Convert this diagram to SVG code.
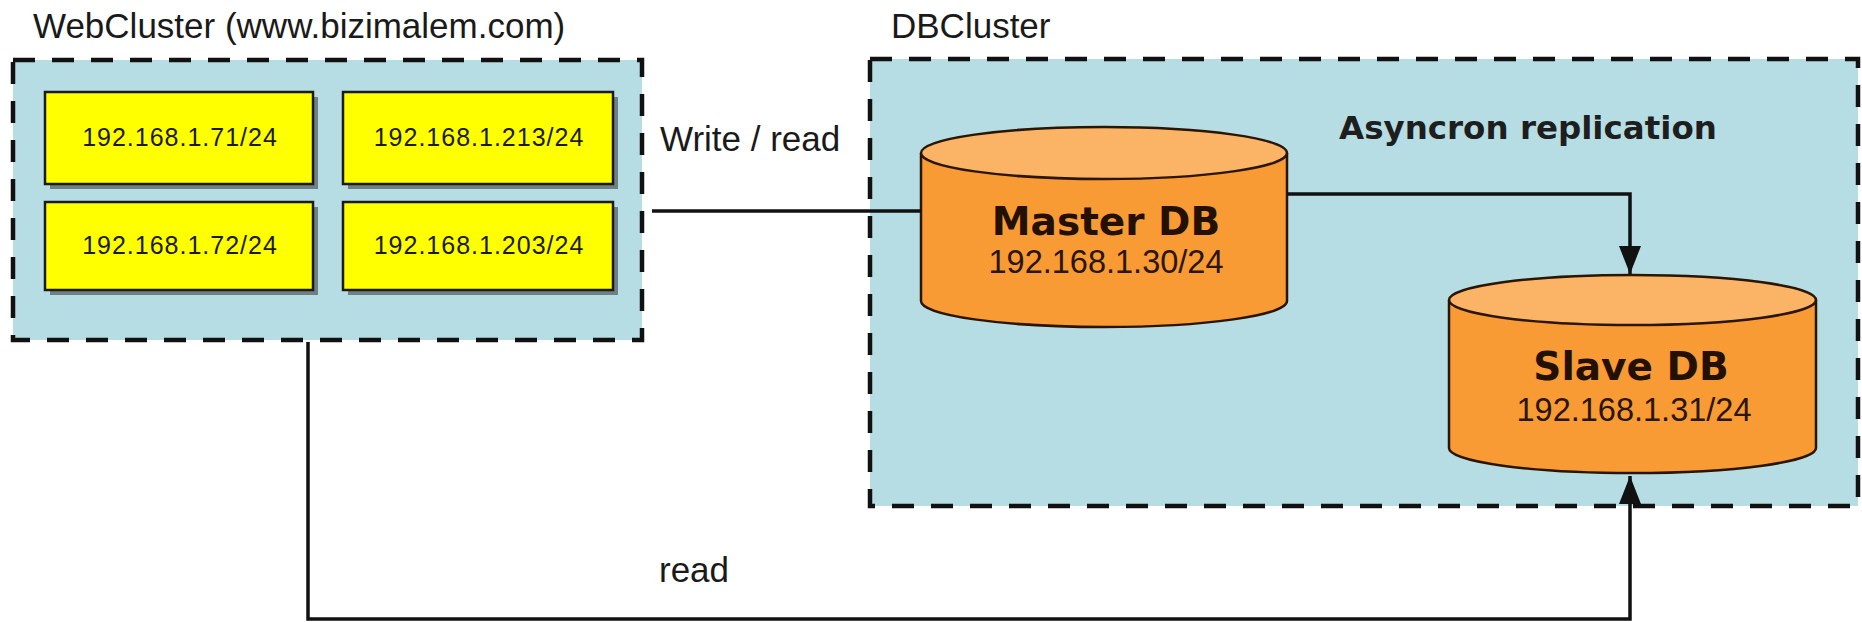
<svg xmlns="http://www.w3.org/2000/svg" width="1862" height="622" viewBox="0 0 1862 622">
<style>
.cluster{fill:#b6dde3;stroke:#111;stroke-width:4.5;stroke-dasharray:22 17}
.lbl{font-family:"Liberation Sans",Arial,sans-serif;font-size:35px;fill:#1a1a1a}
.host{fill:#ffff00;stroke:#1a1a1a;stroke-width:2.5}
.shadow{fill:#6f8184}
.ip{font-family:"Liberation Sans",Arial,sans-serif;font-size:25px;letter-spacing:1px;fill:#1a1a1a;text-anchor:middle}
.cylbody{fill:#f89b34;stroke:#2a1500;stroke-width:2.5}
.cyltop{fill:#fbb366;stroke:#2a1500;stroke-width:2.5}
.dbname{font-family:"DejaVu Sans",Verdana,sans-serif;font-weight:bold;font-size:39px;fill:#231000;text-anchor:middle}
.dbip{font-family:"Liberation Sans",Arial,sans-serif;font-size:32.5px;fill:#2a1500;text-anchor:middle}
.bold{font-family:"DejaVu Sans",Verdana,sans-serif;font-weight:bold;font-size:32.5px;fill:#1e1e1e}
.conn{fill:none;stroke:#111;stroke-width:3.5}
</style>
<defs>
<marker id="arrow" markerUnits="userSpaceOnUse" markerWidth="28" markerHeight="22" refX="28" refY="11" orient="auto">
<path d="M0,0 L28,11 L0,22 Z" fill="#111"/>
</marker>
</defs>
<rect width="1862" height="622" fill="#ffffff"/>

<g id="webcluster">
<rect class="cluster" x="13" y="60" width="629" height="280"/>
<text class="lbl" x="33" y="38">WebCluster (www.bizimalem.com)</text>
</g>
<g id="dbcluster">
<rect class="cluster" x="870" y="59" width="988" height="447"/>
<text class="lbl" x="891" y="38">DBCluster</text>
<text class="bold" x="1339" y="139">Asyncron replication</text>
</g>

<g id="web1">
<rect class="shadow" x="50" y="97" width="268" height="92"/>
<rect class="host" x="45" y="92" width="268" height="92"/>
<text class="ip" x="180" y="146">192.168.1.71/24</text>
</g>
<g id="web2">
<rect class="shadow" x="348" y="97" width="270" height="92"/>
<rect class="host" x="343" y="92" width="270" height="92"/>
<text class="ip" x="479" y="146">192.168.1.213/24</text>
</g>
<g id="web3">
<rect class="shadow" x="50" y="207" width="268" height="88"/>
<rect class="host" x="45" y="202" width="268" height="88"/>
<text class="ip" x="180" y="254">192.168.1.72/24</text>
</g>
<g id="web4">
<rect class="shadow" x="348" y="207" width="270" height="88"/>
<rect class="host" x="343" y="202" width="270" height="88"/>
<text class="ip" x="479" y="254">192.168.1.203/24</text>
</g>

<g id="masterdb">
<path class="cylbody" d="M921,153 V301 A183,26 0 0 0 1287,301 V153"/>
<ellipse class="cyltop" cx="1104" cy="153" rx="183" ry="26"/>
<text class="dbname" x="1106" y="235">Master DB</text>
<text class="dbip" x="1106" y="273">192.168.1.30/24</text>
</g>

<g id="slavedb">
<path class="cylbody" d="M1449,300 V448 A183.5,25 0 0 0 1816,448 V300"/>
<ellipse class="cyltop" cx="1632.5" cy="300" rx="183.5" ry="25"/>
<text class="dbname" x="1631" y="380">Slave DB</text>
<text class="dbip" x="1634" y="421">192.168.1.31/24</text>
</g>

<g id="connectors">
<path class="conn" d="M652,211 H921"/>
<text class="lbl" x="660" y="151">Write / read</text>
<path class="conn" d="M1287,194 H1630 V274" marker-end="url(#arrow)"/>
<path class="conn" d="M308,342 V619 H1630 V476" marker-end="url(#arrow)"/>
<text class="lbl" x="659" y="582">read</text>
</g>
</svg>
